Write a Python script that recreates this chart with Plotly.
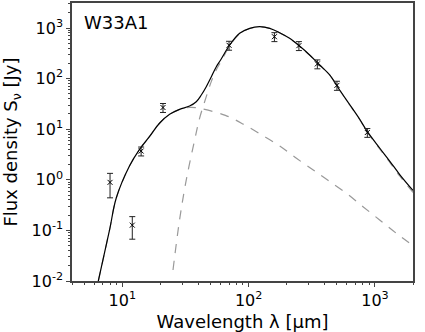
import plotly.graph_objects as go

# observed photometry (wavelength in micron, flux in Jy)
wl_obs = [8.0, 12.0, 14.1, 21.0, 70, 160, 250, 350, 500, 870]
flux_obs = [0.89, 0.127, 3.7, 26.8, 455, 673, 448, 195, 73.6, 8.6]
err_obs = [0.45, 0.06, 0.74, 5.4, 91, 135, 90, 39, 15, 1.7]

# total model SED (solid)
wl_total = [6.46, 7.93, 8.96, 11.4, 13.7, 16.4, 19.7, 23.7, 28.4, 34.1, 38.5, 42.2,
            46.2, 50.7, 55.5, 60.0, 70.8, 84.9, 102, 122, 147, 176, 211, 253, 304,
            365, 438, 525, 630, 755, 871, 1089, 1307, 1570, 2000]
flux_total = [0.010, 0.102, 0.436, 1.87, 4.0, 7.1, 13.1, 19.7, 24.7, 28.7, 34.9, 47.4,
              69.2, 109, 172, 233, 461, 785, 986, 1061, 986, 807, 625, 440, 293,
              186, 118, 59.6, 30.8, 15.9, 8.93, 4.25, 2.35, 1.27, 0.615]

# warm component (dashed)
wl_warm = [6.46, 7.93, 8.96, 11.4, 13.7, 16.4, 19.7, 23.7, 28.4, 34.1, 38.5, 43.5,
           65.5, 91.2, 127, 176, 239, 327, 422, 594, 804, 1089, 1476, 2000]
flux_warm = [0.010, 0.102, 0.436, 1.87, 4.0, 7.1, 13.1, 19.7, 24.5, 26.9, 26.5, 25.1,
             18.8, 12.5, 7.68, 4.66, 2.66, 1.54, 0.99, 0.541, 0.294, 0.161, 0.0877, 0.05]

# cold component (dashed)
wl_cold = [25.2, 28.4, 32.1, 37.4, 40.9, 46.2, 50.7, 55.5, 60.0, 70.8, 84.9, 102, 122,
           147, 176, 211, 253, 304, 365, 438, 525, 630, 755, 871, 1089, 1307, 1570, 2000]
flux_cold = [0.0165, 0.161, 1.0, 6.1, 16.4, 43.9, 88, 149, 211, 443, 771, 975, 1053,
             980, 802, 622, 438, 291, 185, 117, 58.9, 30.3, 15.6, 8.7, 4.09, 2.24, 1.19, 0.564]

y_ticks = [0.01, 0.1, 1, 10, 100, 1000]
y_labels = ["10<sup>-2</sup>", "10<sup>-1</sup>", "10<sup>0</sup>",
            "10<sup>1</sup>", "10<sup>2</sup>", "10<sup>3</sup>"]
x_ticks = [10, 100, 1000]
x_labels = ["10<sup>1</sup>", "10<sup>2</sup>", "10<sup>3</sup>"]

x_minor = [k * 10 ** e for e in range(0, 4) for k in range(2, 10)]
y_minor = [k * 10.0 ** e for e in range(-2, 4) for k in range(2, 10)]

fig = go.Figure()
dash_style = dict(color="#999999", width=1.2, dash="9px,8px")
fig.add_trace(go.Scatter(x=wl_warm, y=flux_warm, mode="lines", line=dash_style,
                         line_shape="spline"))
fig.add_trace(go.Scatter(x=wl_cold, y=flux_cold, mode="lines", line=dash_style,
                         line_shape="spline"))
fig.add_trace(go.Scatter(x=wl_total, y=flux_total, mode="lines",
                         line=dict(color="black", width=1.2), line_shape="spline"))
fig.add_trace(go.Scatter(
    x=wl_obs, y=flux_obs, mode="markers",
    marker=dict(symbol="x-thin", size=5, line=dict(color="black", width=1)),
    error_y=dict(type="data", array=err_obs, color="#222222", thickness=1, width=3),
))

axis_common = dict(
    type="log", showgrid=False, zeroline=False, automargin=False,
    showline=True, mirror=True, linecolor="#444444", linewidth=1.5,
    ticks="outside", ticklen=4, tickcolor="#444444",
    tickfont=dict(family="DejaVu Sans", size=16, color="black"),
)
fig.update_xaxes(
    **axis_common,
    range=[0.602, 3.301], tickmode="array", tickvals=x_ticks, ticktext=x_labels,
    minor=dict(tickmode="array", tickvals=x_minor, ticks="outside", ticklen=2,
               tickcolor="#444444"),
    title=dict(text="Wavelength λ [µm]",
               font=dict(family="DejaVu Sans", size=18, color="black")),
)
fig.update_yaxes(
    **axis_common,
    range=[-2, 3.494], tickmode="array", tickvals=y_ticks, ticktext=y_labels,
    minor=dict(tickmode="array", tickvals=y_minor, ticks="outside", ticklen=2,
               tickcolor="#444444"),
    title=dict(text="Flux density S<sub>ν</sub> [Jy]",
               font=dict(family="DejaVu Sans", size=18, color="black")),
)
fig.add_annotation(text="W33A1", xref="paper", yref="paper", x=0.03, y=0.975,
                   xanchor="left", yanchor="top", showarrow=False,
                   font=dict(family="DejaVu Sans", size=18, color="black"))
fig.update_layout(
    width=425, height=332, showlegend=False,
    margin=dict(l=72, r=12, t=3, b=51),
    paper_bgcolor="white", plot_bgcolor="white",
)
fig.write_html("out.html", config={"displayModeBar": False},
               post_script="document.body.style.margin = '0';")
